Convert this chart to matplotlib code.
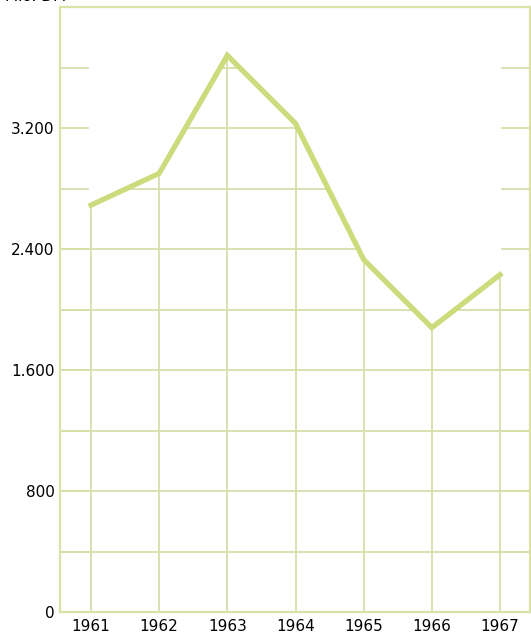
import matplotlib.pyplot as plt
from matplotlib.patches import Polygon

# data (Mio. DM)
years = [1961, 1962, 1963, 1964, 1965, 1966, 1967]
values = [2690, 2900, 3680, 3230, 2330, 1880, 2230]
ytick_vals = [0, 800, 1600, 2400, 3200]
ytick_labels = ["0", "800", "1.600", "2.400", "3.200"]
grid_levels = [400, 800, 1200, 1600, 2000, 2400, 2800, 3200, 3600]

line_col = "#cbdc7c"
grid_col = "#d8deaa"
frame_col = "#dbe2a8"

plt.rcParams['font.family'] = ['DejaVu Sans']

fig = plt.figure(figsize=(5.31, 6.33), dpi=100)
ax = fig.add_axes([60 / 531, 21 / 633, 470 / 531, 605 / 633])
x_left, x_right = 1960.545, 1967.44
ax.set_xlim(x_left, x_right)
ax.set_ylim(0, 4000)

# area under the curve, used to clip the grid
verts = [(x_left, 0), (x_left, values[0])] + list(zip(years, values)) + \
        [(x_right, values[-1]), (x_right, 0)]
clip = Polygon(verts, closed=True, transform=ax.transData, facecolor="none",
               edgecolor="none")
ax.add_patch(clip)

for lv in grid_levels:
    ln, = ax.plot([x_left, x_right], [lv, lv], color=grid_col, lw=1.3, zorder=1)
    ln.set_clip_path(clip)
    # short marks at both edges
    ax.plot([x_left, x_left + 0.41], [lv, lv], color=grid_col, lw=1.3, zorder=1)
    ax.plot([x_right - 0.41, x_right], [lv, lv], color=grid_col, lw=1.3, zorder=1)

for yr, v in zip(years, values):
    ax.plot([yr, yr], [0, v], color=grid_col, lw=1.3, zorder=1)

ax.plot(years, values, color=line_col, lw=3.8, solid_joinstyle="miter", zorder=3)

for s in ax.spines.values():
    s.set_color(frame_col)
    s.set_linewidth(1.6)

ax.set_yticks(ytick_vals)
ax.set_yticklabels(ytick_labels)
ax.set_xticks(years)
ax.set_xticklabels([str(y) for y in years])
ax.tick_params(axis="both", length=0, labelsize=11, colors="black")
ax.tick_params(axis="y", pad=4)
ax.tick_params(axis="x", pad=5)

fig.text(0.01, 1 - 4 / 633, "Mio. DM", fontsize=11, va="bottom", ha="left")

fig.savefig("out.png", dpi=100)
